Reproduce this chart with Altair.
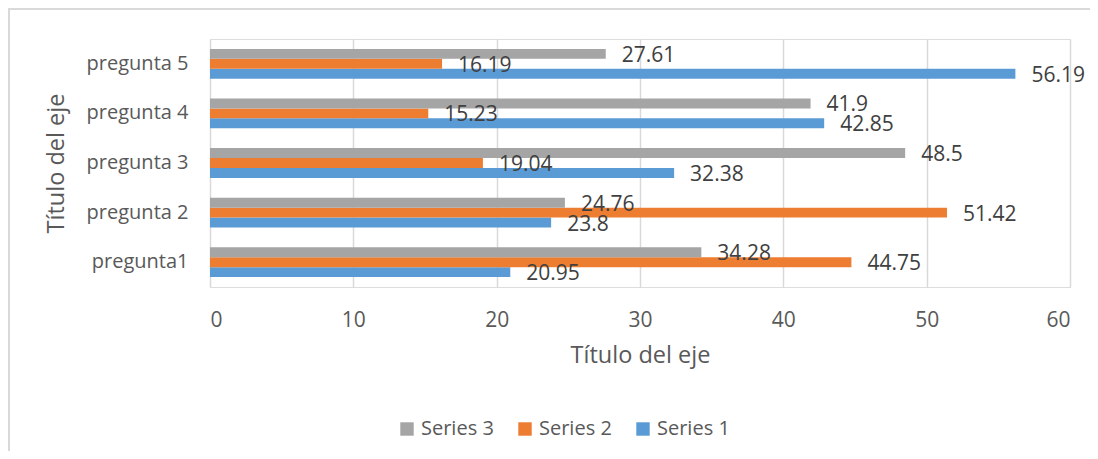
import altair as alt
import pandas as pd

categories = ["pregunta1", "pregunta 2", "pregunta 3", "pregunta 4", "pregunta 5"]
series_names = ["Series 1", "Series 2", "Series 3"]
series1 = [20.95, 23.8, 32.38, 42.85, 56.19]
series2 = [44.75, 51.42, 19.04, 15.23, 16.19]
series3 = [34.28, 24.76, 48.5, 41.9, 27.61]
colors = {"Series 1": "#5B9BD5", "Series 2": "#ED7D31", "Series 3": "#A5A5A5"}
x_ticks = [0, 10, 20, 30, 40, 50, 60]

rows = []
for name, vals in zip(series_names, [series1, series2, series3]):
    for c, v in zip(categories, vals):
        rows.append({"cat": c, "series": name, "value": v, "label": str(v)})
df = pd.DataFrame(rows)

legend_order = ["Series 3", "Series 2", "Series 1"]
FONT = "Open Sans"
TXT = "#595959"
W, H = 860, 248

y_enc = alt.Y("cat:N", sort=list(reversed(categories)),
              scale=alt.Scale(paddingInner=0.4, paddingOuter=0.2),
              axis=alt.Axis(title="Título del eje", labelFontSize=20, labelColor=TXT,
                            labelFont=FONT, ticks=False, domain=False, labelPadding=22,
                            titleFontSize=23.5, titleFont=FONT, titleColor=TXT,
                            titleFontWeight="normal", titlePadding=18))
x_enc = alt.X("value:Q", scale=alt.Scale(domain=[0, 60], nice=False),
              axis=alt.Axis(values=x_ticks, title="Título del eje", labelFontSize=21,
                            labelColor=TXT, labelFont=FONT, ticks=False, domain=False,
                            labelPadding=22, grid=True, gridColor="#d9d9d9", gridWidth=1.5,
                            titleFontSize=23.5, titleFont=FONT, titleColor=TXT,
                            titleFontWeight="normal", titlePadding=13))
yoff = alt.YOffset("series:N", sort=legend_order,
                   scale=alt.Scale(paddingInner=0, paddingOuter=0))

base = alt.Chart(df)
bars = base.mark_bar().encode(
    y=y_enc, x=x_enc, yOffset=yoff,
    color=alt.Color("series:N",
                    scale=alt.Scale(domain=legend_order,
                                    range=[colors[s] for s in legend_order]),
                    legend=alt.Legend(title=None, orient="none", direction="horizontal",
                                      legendX=187, legendY=380, symbolType="square",
                                      symbolSize=180, symbolStrokeWidth=0,
                                      labelFontSize=20, labelFont=FONT, labelColor=TXT,
                                      columnPadding=21, symbolOffset=0, labelOffset=4)),
)
labels = base.mark_text(align="left", baseline="middle", dx=16, dy=2,
                        fontSize=21, font=FONT, color="#404040").encode(
    y=alt.Y("cat:N", sort=list(reversed(categories))), x="value:Q", yOffset=yoff,
    text="label:N",
)
frame_top = alt.Chart(df).mark_rule(color="#d9d9d9", strokeWidth=2).encode(
    x=alt.value(-202), x2=alt.value(880), y=alt.value(-30))
frame_left = alt.Chart(df).mark_rule(color="#d9d9d9", strokeWidth=2).encode(
    x=alt.value(-201), y=alt.value(-30), y2=alt.value(420))

chart = alt.layer(frame_top, frame_left, bars, labels).properties(
    width=W, height=H,
    autosize=alt.AutoSizeParams(type="none"),
    padding={"left": 202, "top": 31, "right": 20, "bottom": 164},
).configure_view(stroke=None).configure(background="white")

chart.save("out.html", embed_options={"renderer": "svg", "actions": False})
